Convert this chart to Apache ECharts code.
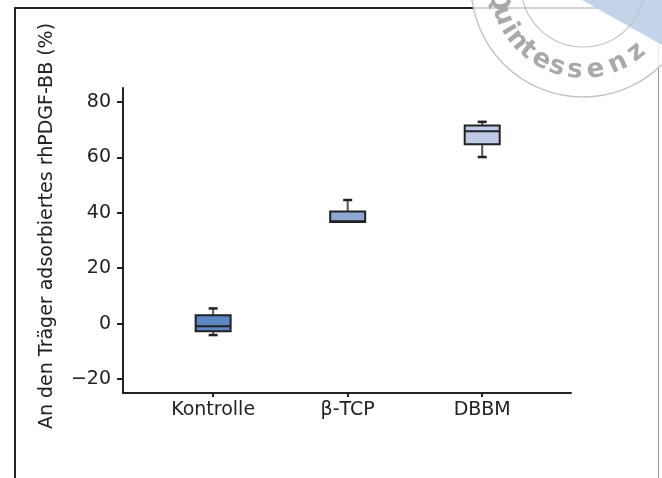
<!DOCTYPE html>
<html><head><meta charset="utf-8">
<script src="https://cdn.jsdelivr.net/npm/echarts@6/dist/echarts.min.js"></script>
<style>html,body{margin:0;padding:0;background:#fff}#c{width:662px;height:478px}</style>
</head><body><div id="c"></div>
<script>
// ---- data ----
const categories = ['Kontrolle', 'β-TCP', 'DBBM'];
const positions = [1, 2, 3];
const whiskerLow = [-4.1, 36.7, 60.1];
const q1 = [-2.7, 36.7, 64.7];
const median = [-0.9, 36.9, 69.4];
const q3 = [3.0, 40.5, 71.5];
const whiskerHigh = [5.5, 44.6, 72.8];
const yTicks = [-20, 0, 20, 40, 60, 80];
const boxColors = ['#5d86c5', '#8ea7d3', '#bfcbe6'];
const yAxisTitle = 'An den Träger adsorbiertes rhPDGF-BB (%)';
const watermarkText = 'Quintessenz';
const watermarkAngles = [170, 159, 149, 140, 130.5, 119, 107.6, 95.5, 81.7, 66, 51.5];

const font = 'DejaVu Sans';
const ink = '#222';

const seriesData = positions.map((p, i) => ({
  value: [p, whiskerLow[i], q1[i], median[i], q3[i], whiskerHigh[i]],
  itemStyle: { color: boxColors[i] }
}));

// watermark (decorative stamp)
const wmC = [583, -15];
const wm = [];
wm.push({ type: 'circle', shape: { cx: wmC[0], cy: wmC[1], r: 112 }, style: { fill: 'rgba(255,255,255,0.8)', stroke: '#c4c4c4', lineWidth: 1.5 }, z: 50 });
wm.push({ type: 'polygon', shape: { points: [[582, 0], [662, 0], [662, 45]] }, style: { fill: '#c3d4ea' }, z: 51 });
wm.push({ type: 'circle', shape: { cx: wmC[0], cy: wmC[1], r: 62 }, style: { fill: 'none', stroke: '#c4c4c4', lineWidth: 1.2 }, z: 52 });
watermarkText.split('').forEach((ch, i) => {
  const a = watermarkAngles[i] * Math.PI / 180;
  wm.push({
    type: 'text', z: 53,
    x: wmC[0] + 86 * Math.cos(a), y: wmC[1] + 86 * Math.sin(a),
    rotation: -(a - Math.PI / 2),
    style: { text: ch, fill: '#a9a9a9', font: 'bold 26px "' + font + '"', textAlign: 'center', textVerticalAlign: 'middle' }
  });
});

const chart = echarts.init(document.getElementById('c'), null, { renderer: 'canvas' });
chart.setOption({
  animation: false,
  backgroundColor: '#fff',
  grid: { left: 123, right: 91, top: 88, bottom: 85, containLabel: false },
  xAxis: {
    type: 'value', min: 0.33, max: 3.66,
    splitLine: { show: false },
    axisLine: { show: true, onZero: false, lineStyle: { color: ink, width: 2 } },
    axisTick: { show: true, customValues: positions, length: 4, lineStyle: { color: ink, width: 2 } },
    axisLabel: {
      customValues: positions, margin: 8,
      formatter: v => categories[positions.indexOf(v)] || '',
      color: ink, fontFamily: font, fontSize: 19
    }
  },
  yAxis: {
    type: 'value', min: -25, max: 85,
    splitLine: { show: false },
    axisLine: { show: true, onZero: false, lineStyle: { color: ink, width: 2 } },
    axisTick: { show: true, customValues: yTicks, length: 6, lineStyle: { color: ink, width: 2 } },
    axisLabel: {
      customValues: yTicks, margin: 12,
      formatter: v => (v < 0 ? '−' + Math.abs(v) : String(v)),
      color: ink, fontFamily: font, fontSize: 19
    }
  },
  series: [{
    type: 'custom',
    data: seriesData,
    encode: { x: 0, y: [1, 2, 3, 4, 5] },
    renderItem: function (params, api) {
      const x = api.value(0);
      const pLow = api.coord([x, api.value(1)]);
      const pQ1 = api.coord([x, api.value(2)]);
      const pMed = api.coord([x, api.value(3)]);
      const pQ3 = api.coord([x, api.value(4)]);
      const pHigh = api.coord([x, api.value(5)]);
      const cx = pQ1[0];
      const bw = 35, cap = 9;
      const color = api.visual('color');
      const wStyle = { stroke: '#555', lineWidth: 2 };
      const cStyle = { stroke: ink, lineWidth: 2.5 };
      const children = [
        { type: 'line', shape: { x1: cx, y1: pQ3[1], x2: cx, y2: pHigh[1] }, style: wStyle },
        { type: 'line', shape: { x1: cx - cap / 2, y1: pHigh[1], x2: cx + cap / 2, y2: pHigh[1] }, style: cStyle }
      ];
      if (Math.abs(pLow[1] - pQ1[1]) > 1) {
        children.push({ type: 'line', shape: { x1: cx, y1: pQ1[1], x2: cx, y2: pLow[1] }, style: wStyle });
        children.push({ type: 'line', shape: { x1: cx - cap / 2, y1: pLow[1], x2: cx + cap / 2, y2: pLow[1] }, style: cStyle });
      }
      children.push({ type: 'rect', shape: { x: cx - bw / 2, y: pQ3[1], width: bw, height: pQ1[1] - pQ3[1] }, style: { fill: color, stroke: ink, lineWidth: 2 } });
      children.push({ type: 'line', shape: { x1: cx - bw / 2, y1: pMed[1], x2: cx + bw / 2, y2: pMed[1] }, style: { stroke: ink, lineWidth: 2 } });
      return { type: 'group', children: children };
    }
  }],
  graphic: [
    { type: 'line', shape: { x1: 15, y1: 7, x2: 15, y2: 478 }, style: { stroke: ink, lineWidth: 2 }, z: 10 },
    { type: 'line', shape: { x1: 14, y1: 8, x2: 660, y2: 8 }, style: { stroke: ink, lineWidth: 2 }, z: 10 },
    { type: 'line', shape: { x1: 658.5, y1: 8, x2: 658.5, y2: 478 }, style: { stroke: '#999', lineWidth: 1 }, z: 10 },
    {
      type: 'text', x: 47, y: 226, rotation: Math.PI / 2, z: 10,
      style: { text: yAxisTitle, fill: ink, font: '19px "' + font + '"', textAlign: 'center', textVerticalAlign: 'middle' }
    }
  ].concat(wm)
});
</script>
</body></html>
